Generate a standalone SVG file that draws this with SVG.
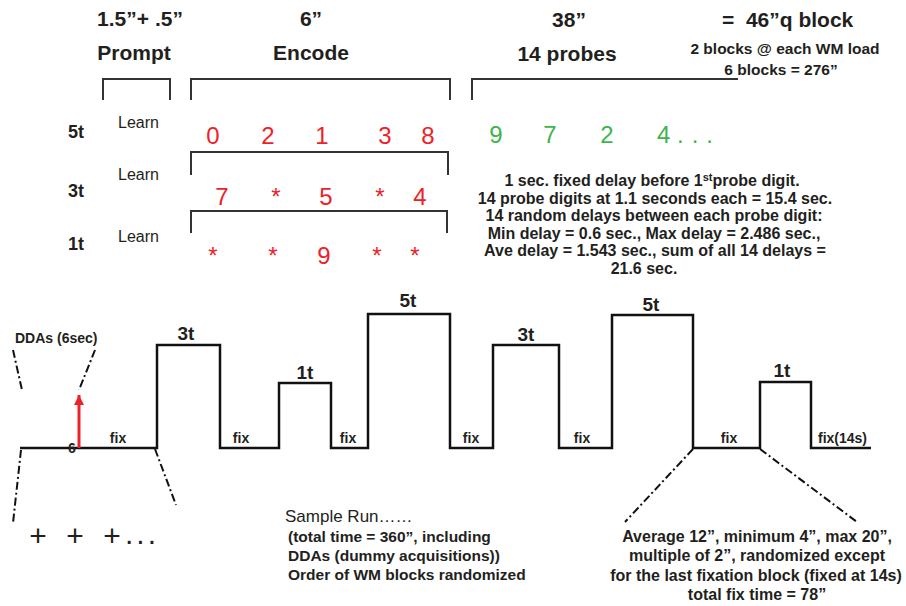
<svg xmlns="http://www.w3.org/2000/svg" width="906" height="606" viewBox="0 0 906 606">
<defs>
<style>
text{font-family:"Liberation Sans",Arial,Helvetica,sans-serif;fill:#231f20}
.h{font-size:21px;font-weight:bold}
.sub{font-size:15.5px;font-weight:bold}
.lbl{font-size:18px;font-weight:bold}
.learn{font-size:16px}
.red{font-size:24px;fill:#ec2227}
.grn{font-size:24px;fill:#3db54a}
.info{font-size:16px;font-weight:bold}
.box{font-size:19px;font-weight:bold}
.fix{font-size:14px;font-weight:bold}
.note{font-size:15.5px;font-weight:bold}
.brk{fill:none;stroke:#333;stroke-width:2}
.wave{fill:none;stroke:#111;stroke-width:2.5}
.dd{fill:none;stroke:#111;stroke-width:2;stroke-dasharray:8 3 2 3}
</style>
<marker id="ah" viewBox="0 0 10 10" refX="10" refY="5" markerWidth="11" markerHeight="10" markerUnits="userSpaceOnUse" orient="auto">
<path d="M0,0 L10,5 L0,10 Z" fill="#ec2227"/>
</marker>
</defs>

<g id="header">
<text class="h" x="140" y="26" text-anchor="middle">1.5”+ .5”</text>
<text class="h" x="311" y="26" text-anchor="middle">6”</text>
<text class="h" x="569" y="27" text-anchor="middle">38”</text>
<text class="h" x="722" y="27" xml:space="preserve">=  46”q block</text>
<text class="h" x="134" y="60" text-anchor="middle">Prompt</text>
<text class="h" x="311" y="60" text-anchor="middle">Encode</text>
<text class="h" x="567" y="61" text-anchor="middle">14 probes</text>
<text class="sub" x="785" y="54" text-anchor="middle">2 blocks @ each WM load</text>
<text class="sub" x="781" y="75" text-anchor="middle">6 blocks = 276”</text>
</g>

<g id="brackets">
<path class="brk" d="M103,100 V79 H170 V100"/>
<path class="brk" d="M191,100 V79 H450 V100"/>
<path class="brk" d="M472,100 V79 H738"/>
<path class="brk" d="M191,175 V152 H448 V175"/>
<path class="brk" d="M191,233 V211 H447 V233"/>
</g>

<g id="row-5t">
<text class="lbl" x="76" y="138" text-anchor="middle">5t</text>
<text class="learn" x="118" y="128">Learn</text>
<text class="red" x="213" y="144" text-anchor="middle">0</text>
<text class="red" x="268" y="144" text-anchor="middle">2</text>
<text class="red" x="322" y="144" text-anchor="middle">1</text>
<text class="red" x="385" y="144" text-anchor="middle">3</text>
<text class="red" x="428" y="144" text-anchor="middle">8</text>
<text class="grn" x="496" y="143" text-anchor="middle">9</text>
<text class="grn" x="550" y="143" text-anchor="middle">7</text>
<text class="grn" x="607" y="143" text-anchor="middle">2</text>
<text class="grn" x="657" y="143">4</text>
<text class="grn" x="677" y="143" letter-spacing="8">...</text>
</g>

<g id="row-3t">
<text class="lbl" x="76" y="197" text-anchor="middle">3t</text>
<text class="learn" x="118" y="180">Learn</text>
<text class="red" x="222" y="205" text-anchor="middle">7</text>
<text class="red" x="276" y="205" text-anchor="middle">*</text>
<text class="red" x="326" y="205" text-anchor="middle">5</text>
<text class="red" x="380" y="205" text-anchor="middle">*</text>
<text class="red" x="420" y="205" text-anchor="middle">4</text>
</g>

<g id="row-1t">
<text class="lbl" x="76" y="250" text-anchor="middle">1t</text>
<text class="learn" x="118" y="242">Learn</text>
<text class="red" x="213" y="264" text-anchor="middle">*</text>
<text class="red" x="273" y="264" text-anchor="middle">*</text>
<text class="red" x="324" y="264" text-anchor="middle">9</text>
<text class="red" x="377" y="264" text-anchor="middle">*</text>
<text class="red" x="415" y="264" text-anchor="middle">*</text>
</g>

<g id="probe-info">
<text class="info" x="652" y="186" text-anchor="middle">1 sec. fixed delay before 1<tspan font-size="11" dy="-5">st</tspan><tspan dy="5">probe digit.</tspan></text>
<text class="info" x="655" y="204" text-anchor="middle">14 probe digits at 1.1 seconds each = 15.4 sec.</text>
<text class="info" x="654" y="221" text-anchor="middle">14 random delays between each probe digit:</text>
<text class="info" x="654" y="239" text-anchor="middle">Min delay = 0.6 sec., Max delay = 2.486 sec.,</text>
<text class="info" x="655" y="256" text-anchor="middle">Ave delay = 1.543 sec., sum of all 14 delays =</text>
<text class="info" x="644" y="274" text-anchor="middle">21.6 sec.</text>
</g>

<g id="timeline">
<path class="wave" d="M20,448 H157 V345 H220 V448 H279 V383 H331 V448 H368 V314 H450 V448 H493 V345 H559 V448 H612 V315 H693 V448 H760 V382 H811 V448 H871"/>
<text class="box" x="186" y="340" text-anchor="middle">3t</text>
<text class="box" x="305" y="379" text-anchor="middle">1t</text>
<text class="box" x="408" y="307" text-anchor="middle">5t</text>
<text class="box" x="526" y="341" text-anchor="middle">3t</text>
<text class="box" x="651" y="311" text-anchor="middle">5t</text>
<text class="box" x="782" y="377" text-anchor="middle">1t</text>
<text class="fix" x="118" y="443" text-anchor="middle">fix</text>
<text class="fix" x="241" y="443" text-anchor="middle">fix</text>
<text class="fix" x="348" y="443" text-anchor="middle">fix</text>
<text class="fix" x="471" y="443" text-anchor="middle">fix</text>
<text class="fix" x="582" y="443" text-anchor="middle">fix</text>
<text class="fix" x="729" y="443" text-anchor="middle">fix</text>
<text class="fix" x="818" y="443">fix(14s)</text>
<text class="fix" x="72" y="453" text-anchor="middle">6</text>
</g>

<g id="ddas">
<text class="fix" x="15" y="343" font-size="13">DDAs (6sec)</text>
<text x="38" y="546" font-size="30" text-anchor="middle">+</text>
<text x="75" y="546" font-size="30" text-anchor="middle">+</text>
<text x="112" y="546" font-size="30" text-anchor="middle">+</text>
<text x="125" y="544" font-size="30" letter-spacing="3">...</text>
</g>

<g id="connectors">
<line x1="79" y1="448" x2="79" y2="395" stroke="#ec2227" stroke-width="3" marker-end="url(#ah)"/>
<line class="dd" x1="13" y1="350" x2="22" y2="390"/>
<line class="dd" x1="95" y1="350" x2="79" y2="390"/>
<line class="dd" x1="21" y1="450" x2="13" y2="523"/>
<line class="dd" x1="155" y1="449" x2="176" y2="505"/>
<line class="dd" x1="693" y1="449" x2="625" y2="522"/>
<line class="dd" x1="760" y1="449" x2="857" y2="522"/>
</g>

<g id="sample-run">
<text x="285" y="522" font-size="17">Sample Run……</text>
<text class="note" x="288" y="542">(total time = 360”, including</text>
<text class="note" x="288" y="561">DDAs (dummy acquisitions))</text>
<text class="note" x="288" y="580">Order of WM blocks randomized</text>
</g>

<g id="fix-note">
<text class="info" x="757" y="542" text-anchor="middle">Average 12”, minimum 4”, max 20”,</text>
<text class="info" x="757" y="561" text-anchor="middle">multiple of 2”, randomized except</text>
<text class="info" x="756" y="581" text-anchor="middle">for the last fixation block (fixed at 14s)</text>
<text class="info" x="757" y="600" text-anchor="middle">total fix time = 78”</text>
</g>
</svg>
